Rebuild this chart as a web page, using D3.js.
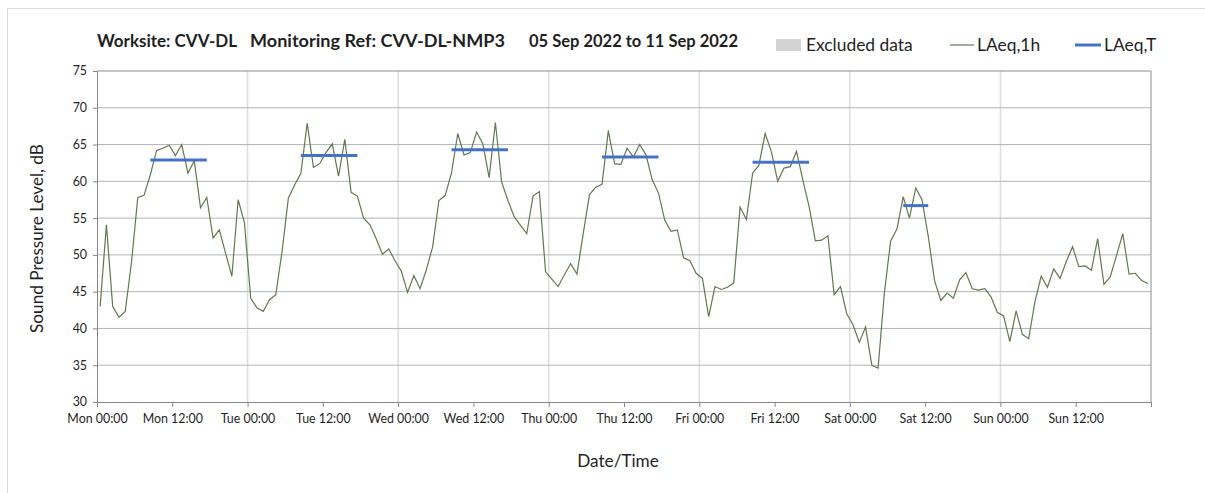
<!DOCTYPE html>
<html>
<head>
<meta charset="utf-8">
<script src="https://cdn.jsdelivr.net/npm/d3@7"></script>
<style>
    body { margin: 0; background: #fff; }
    text { font-family: Lato, "Open Sans", sans-serif; fill: #1f1f1f; }
</style>
</head>
<body>
<svg id="svg-chart" width="1205" height="493"></svg>
<script>
// -------------------- DATA -------------------- //
// hourly LAeq,1h values, hour 0 = Mon 00:00
let laeq1h = [
    43.0, 54.1, 43.0, 41.5, 42.3, 49.0, 57.8, 58.1, 60.9, 64.2, 64.5, 64.9,
    63.5, 65.0, 61.1, 62.8, 56.4, 57.8, 52.3, 53.4, 50.2, 47.1, 57.5, 54.4,
    44.1, 42.8, 42.3, 43.9, 44.6, 50.5, 57.7, 59.5, 61.1, 67.9, 61.9, 62.4,
    63.9, 65.1, 60.7, 65.7, 58.5, 58.0, 55.0, 54.1, 52.2, 50.1, 50.8, 49.2,
    47.8, 44.9, 47.2, 45.4, 48.0, 51.1, 57.4, 58.1, 61.1, 66.5, 63.6, 63.9,
    66.7, 65.1, 60.5, 68.0, 59.9, 57.4, 55.2, 54.0, 52.9, 58.0, 58.6, 47.7,
    46.7, 45.7, 47.3, 48.8, 47.4, 52.9, 58.2, 59.2, 59.6, 66.9, 62.4, 62.3,
    64.5, 63.3, 65.0, 63.6, 60.2, 58.4, 54.7, 53.2, 53.4, 49.6, 49.2, 47.5,
    46.8, 41.6, 45.7, 45.3, 45.6, 46.2, 56.5, 54.8, 61.1, 62.2, 66.5, 64.0,
    60.0, 61.8, 62.0, 64.1, 60.2, 56.6, 51.9, 52.0, 52.6, 44.6, 45.7, 42.0,
    40.5, 38.1, 40.2, 35.0, 34.6, 44.8, 51.9, 53.5, 57.9, 55.0, 59.1, 57.5,
    52.5, 46.5, 43.8, 44.8, 44.1, 46.6, 47.6, 45.4, 45.2, 45.4, 44.3, 42.2,
    41.7, 38.2, 42.4, 39.2, 38.6, 43.6, 47.1, 45.6, 48.1, 46.8, 49.1, 51.1,
    48.4, 48.5, 47.9, 52.2, 46.0, 47.0, 49.9, 52.9, 47.4, 47.5, 46.5, 46.1
];

// LAeq,T periods (first and last hour index, level)
let periodFrom = [8, 32, 56, 80, 104, 128];
let periodTo = [17, 41, 65, 89, 113, 132];
let periodLevel = [62.9, 63.5, 64.3, 63.3, 62.6, 56.7];

let dayNames = ["Mon", "Tue", "Wed", "Thu", "Fri", "Sat", "Sun"];
let tickTimes = ["00:00", "12:00"];
let yTicks = [30, 35, 40, 45, 50, 55, 60, 65, 70, 75];

let titleParts = ["Worksite: CVV-DL", "Monitoring Ref: CVV-DL-NMP3", "05 Sep 2022 to 11 Sep 2022"];

// -------------------- SETUP -------------------- //
let svg = d3.select("#svg-chart");

let margin = {left: 97, top: 71, right: 54, bottom: 91};
let width = 1205 - margin.left - margin.right;
let height = 493 - margin.top - margin.bottom;

// outer frame
svg.append("rect")
    .attr("x", 7.5).attr("y", 8.5)
    .attr("width", 1205).attr("height", 493)
    .attr("fill", "none")
    .attr("stroke", "#d9d9d9");

let g = svg.append("g").attr("transform", `translate(${margin.left},${margin.top})`);

let x = d3.scaleLinear().domain([0, 168]).range([0, width]);
let y = d3.scaleLinear().domain([30, 75]).range([height, 0]);

// -------------------- GRID -------------------- //
g.selectAll(".vgrid")
    .data(d3.range(24, 168, 24))
    .join("line")
    .attr("class", "vgrid")
    .attr("x1", d => x(d)).attr("x2", d => x(d))
    .attr("y1", 0).attr("y2", height)
    .attr("stroke", "#dcdcdc")
    .attr("stroke-width", 1.5);

g.selectAll(".hgrid")
    .data(yTicks.slice(1))
    .join("line")
    .attr("class", "hgrid")
    .attr("x1", 0).attr("x2", width)
    .attr("y1", d => y(d)).attr("y2", d => y(d))
    .attr("stroke", d => d == 75 ? "#8c8c8c" : "#b4b4b4")
    .attr("stroke-width", 1);

// right border
g.append("line")
    .attr("x1", width).attr("x2", width)
    .attr("y1", 0).attr("y2", height)
    .attr("stroke", "#8c8c8c");

// -------------------- AXES -------------------- //
let xTickVals = d3.range(0, 169, 12);
let xAxis = d3.axisBottom(x)
    .tickValues(xTickVals)
    .tickSize(5)
    .tickFormat(d => d == 168 ? "" : dayNames[Math.floor(d / 24)] + " " + tickTimes[(d % 24) / 12]);

let gx = g.append("g")
    .attr("transform", `translate(0,${height})`)
    .call(xAxis);
gx.select(".domain").attr("stroke", "#868686");
gx.selectAll(".tick line").attr("stroke", "#868686");
gx.selectAll(".tick text")
    .attr("dy", "1.05em")
    .style("font-size", "12.4px");

let yAxis = d3.axisLeft(y).tickValues(yTicks).tickSize(4);
let gy = g.append("g").call(yAxis);
gy.select(".domain").attr("stroke", "#868686");
gy.selectAll(".tick line").attr("stroke", "#868686");
gy.selectAll(".tick text")
    .attr("x", -10)
    .style("font-size", "12.4px");

// axis titles
svg.append("text")
    .attr("x", margin.left + width / 2 - 6)
    .attr("y", 467)
    .attr("text-anchor", "middle")
    .style("font-size", "17.2px")
    .text("Date/Time");

svg.append("text")
    .attr("transform", `translate(43,${margin.top + height / 2 + 2}) rotate(-90)`)
    .attr("text-anchor", "middle")
    .style("font-size", "17.2px")
    .text("Sound Pressure Level, dB");

// -------------------- SERIES -------------------- //
let line = d3.line()
    .x((d, i) => x(i + 0.5))
    .y(d => y(d));

g.append("path")
    .datum(laeq1h)
    .attr("d", line)
    .attr("fill", "none")
    .attr("stroke", "#5f7a4b")
    .attr("stroke-width", 1.2);

g.selectAll(".laeqT")
    .data(periodLevel)
    .join("line")
    .attr("class", "laeqT")
    .attr("x1", (d, i) => x(periodFrom[i] + 0.5))
    .attr("x2", (d, i) => x(periodTo[i] + 0.5))
    .attr("y1", d => y(d)).attr("y2", d => y(d))
    .attr("stroke", "#4472c4")
    .attr("stroke-width", 3);

// -------------------- TITLE & LEGEND -------------------- //
let titleX = [97, 250, 529];
let titleW = [140, 255, 209];
svg.selectAll(".title")
    .data(titleParts)
    .join("text")
    .attr("class", "title")
    .attr("x", (d, i) => titleX[i])
    .attr("y", 47)
    .attr("textLength", (d, i) => titleW[i])
    .attr("lengthAdjust", "spacingAndGlyphs")
    .style("font-size", "16.5px")
    .style("font-weight", "bold")
    .text(d => d);

let legend = svg.append("g");
legend.append("rect")
    .attr("x", 776).attr("y", 39)
    .attr("width", 25).attr("height", 12)
    .attr("fill", "#d3d3d3");
legend.append("text")
    .attr("x", 806).attr("y", 51)
    .style("font-size", "17.4px")
    .text("Excluded data");

legend.append("line")
    .attr("x1", 950).attr("x2", 974)
    .attr("y1", 45).attr("y2", 45)
    .attr("stroke", "#5f7a4b").attr("stroke-width", 1.2);
legend.append("text")
    .attr("x", 977).attr("y", 51)
    .style("font-size", "17.4px")
    .text("LAeq,1h");

legend.append("line")
    .attr("x1", 1075).attr("x2", 1101)
    .attr("y1", 45).attr("y2", 45)
    .attr("stroke", "#4472c4").attr("stroke-width", 3);
legend.append("text")
    .attr("x", 1104).attr("y", 51)
    .style("font-size", "17.4px")
    .text("LAeq,T");
</script>
</body>
</html>
